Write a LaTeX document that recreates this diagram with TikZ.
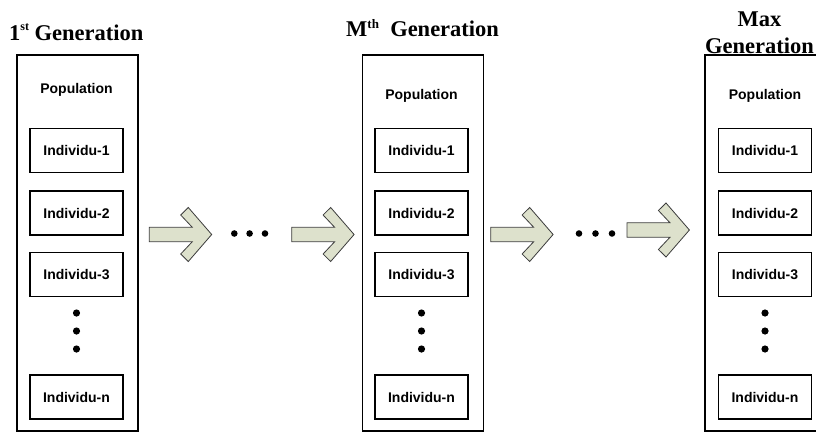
\documentclass[tikz,border=0pt]{standalone}
\usepackage{fontspec}
\setmainfont{Liberation Serif}
\setsansfont{Liberation Sans}
\definecolor{arrowfill}{RGB}{221,225,204}
\definecolor{arrowline}{RGB}{60,60,60}
\tikzset{
  outerbox/.style={draw, line width=1.9pt, minimum width=121pt, minimum height=376pt, inner sep=0pt},
  indbox/.style={draw, line width=1.9pt, minimum width=93pt, minimum height=44pt, inner sep=0pt,
    font=\sffamily\bfseries\fontsize{14}{16}\selectfont},
  poplabel/.style={inner sep=0pt, font=\sffamily\bfseries\fontsize{14}{16}\selectfont},
  titletext/.style={inner sep=0pt, font=\bfseries\fontsize{22.5}{26}\selectfont},
  dotmark/.style={fill=black, draw=none},
  arrowstyle/.style={fill=arrowfill, draw=arrowline, line width=0.8pt, line join=miter},
  blockarrow/.pic={
    \draw[arrowstyle] (0,-7.2) -- (43,-7.2) -- (31.4,-19.5) -- (39,-27) -- (62.4,0)
      -- (39,27) -- (31.4,19.5) -- (43,7.2) -- (0,7.2) -- cycle;
  }
}
\begin{document}
\begin{tikzpicture}[x=1pt, y=-1pt]
\useasboundingbox (0,0) rectangle (816,434);
% titles
\node[titletext, anchor=base west] (t1) at (9,40.7)
  {1\raisebox{10.5pt}{\fontsize{12}{12}\selectfont st} Generation};
\node[titletext, anchor=base west] (t2) at (346,36)
  {M\raisebox{8pt}{\fontsize{13}{13}\selectfont th}\ \ Generation};
\node[titletext, anchor=base] (t3a) at (759.5,26) {Max};
\node[titletext, anchor=base] (t3b) at (759.5,53) {Generation};
% columns
\foreach \c/\cx/\ix/\py in {1/77.5/76.5/93.3, 2/423/421.5/99.5, 3/765.5/765/99.5}{
  \node[outerbox] (pop\c) at (\cx,243) {};
  \node[poplabel, anchor=base] (plab\c) at (\ix,\py) {Population};
  \node[indbox] (i\c a) at (\ix,150.5) {Individu-1};
  \node[indbox] (i\c b) at (\ix,213) {Individu-2};
  \node[indbox] (i\c c) at (\ix,274.5) {Individu-3};
  \node[indbox] (i\c n) at (\ix,397) {Individu-n};
  \fill[dotmark] (\ix,313) circle (3.6);
  \fill[dotmark] (\ix,331) circle (3.6);
  \fill[dotmark] (\ix,349) circle (3.6);
}
% arrows
\pic (a1) at (149.3,234.5) {blockarrow};
\pic (a2) at (291.7,234.5) {blockarrow};
\pic (a3) at (490.7,234.5) {blockarrow};
\pic (a4) at (627,230) {blockarrow};
% ellipsis dots between arrows
\foreach \x in {234.3,249.6,265}{\fill[dotmark] (\x,233.5) circle (3.3);}
\foreach \x in {579,595.5,612}{\fill[dotmark] (\x,233.5) circle (3.3);}
\end{tikzpicture}
\end{document}
